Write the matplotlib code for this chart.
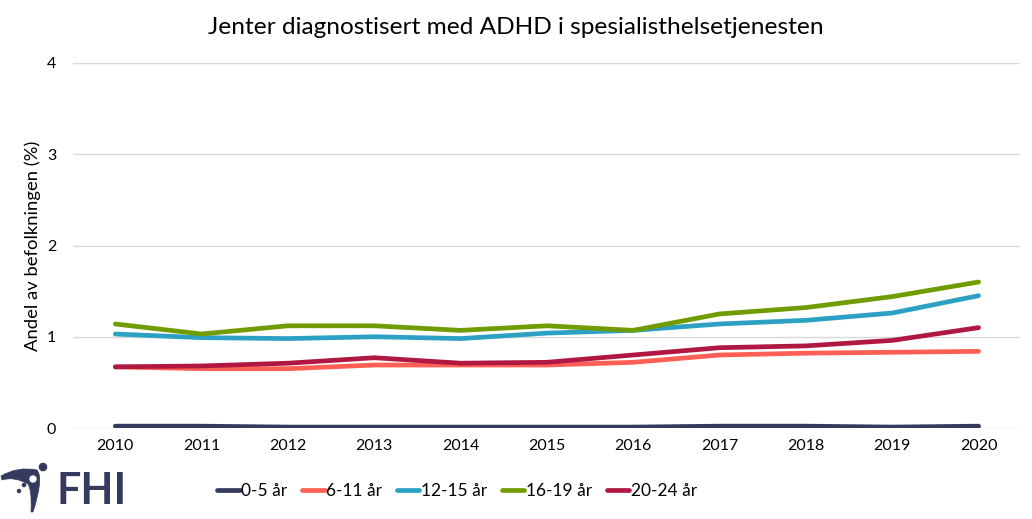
import numpy as np
import matplotlib.pyplot as plt
from matplotlib.patches import Circle, PathPatch
from matplotlib.path import Path

plt.rcParams['font.family'] = ['Lato', 'DejaVu Sans']

years = [2010, 2011, 2012, 2013, 2014, 2015, 2016, 2017, 2018, 2019, 2020]
age_0_5 = [0.02, 0.02, 0.01, 0.01, 0.01, 0.01, 0.01, 0.02, 0.02, 0.01, 0.02]
age_6_11 = [0.67, 0.65, 0.65, 0.69, 0.69, 0.69, 0.72, 0.80, 0.82, 0.83, 0.84]
age_12_15 = [1.03, 0.99, 0.98, 1.00, 0.98, 1.04, 1.07, 1.14, 1.18, 1.26, 1.45]
age_16_19 = [1.14, 1.03, 1.12, 1.12, 1.07, 1.12, 1.07, 1.25, 1.32, 1.44, 1.60]
age_20_24 = [0.67, 0.68, 0.71, 0.77, 0.71, 0.72, 0.80, 0.88, 0.90, 0.96, 1.10]

series = [
    ('0-5 år', age_0_5, '#353A5F'),
    ('6-11 år', age_6_11, '#FF5F55'),
    ('12-15 år', age_12_15, '#2CA1C4'),
    ('16-19 år', age_16_19, '#719C00'),
    ('20-24 år', age_20_24, '#B01843'),
]
navy = '#353A5F'

fig = plt.figure(figsize=(10.32, 5.19), dpi=100)
ax = fig.add_axes([73/1032, 1-428/519, 947/1032, 365/519])

for name, vals, col in series:
    ax.plot(years, vals, color=col, lw=3.4, solid_capstyle='round', label=name)

ax.set_xlim(2009.51, 2020.48)
ax.set_ylim(0, 4)
ax.set_yticks([0, 1, 2, 3, 4])
ax.set_xticks(years)
ax.grid(axis='y', color='#D9D9D9', lw=1)
ax.set_axisbelow(True)
for s in ax.spines.values():
    s.set_visible(False)
ax.tick_params(length=0, labelsize=11.5, colors='black')
ax.tick_params(axis='y', pad=12)
ax.tick_params(axis='x', pad=8)
ax.set_ylabel('Andel av befolkningen (%)', fontsize=13.3, labelpad=4)

fig.text(0.5, 1-28/519, 'Jenter diagnostisert med ADHD i spesialisthelsetjenesten',
         ha='center', va='center', fontsize=17.6)

fig.legend(loc='center', bbox_to_anchor=(457/1032, 1-491/519), ncol=5, frameon=False,
           fontsize=12.5, handlelength=1.3, handletextpad=0.08, columnspacing=0.85)

# FHI logo, drawn in pixel coordinates
lax = fig.add_axes([0, 0, 130/1032, 70/519])
lax.set_xlim(0, 130)
lax.set_ylim(519, 449)
lax.axis('off')
verts = [(1, 476), (18, 466), (37, 470), (44, 478), (33, 512),
         (31, 512), (32, 490), (28, 484), (14, 476), (2, 480), (1, 476)]
codes = [Path.MOVETO, Path.CURVE3, Path.CURVE3, Path.CURVE3, Path.CURVE3,
         Path.LINETO, Path.CURVE3, Path.CURVE3, Path.CURVE3, Path.CURVE3, Path.CLOSEPOLY]
lax.add_patch(PathPatch(Path(verts, codes), facecolor=navy, edgecolor=navy, lw=0.5))
lax.add_patch(Circle((43, 467), 3.6, color=navy))
lax.add_patch(Circle((33, 479), 3.0, color='white'))
lax.add_patch(Circle((24, 485), 1.6, color=navy))
lax.add_patch(Circle((19, 491), 1.5, color=navy))
lax.text(56, 491, 'FHI', fontsize=31, fontweight='bold', color=navy, va='center', ha='left')

fig.savefig('out.png', dpi=100)
